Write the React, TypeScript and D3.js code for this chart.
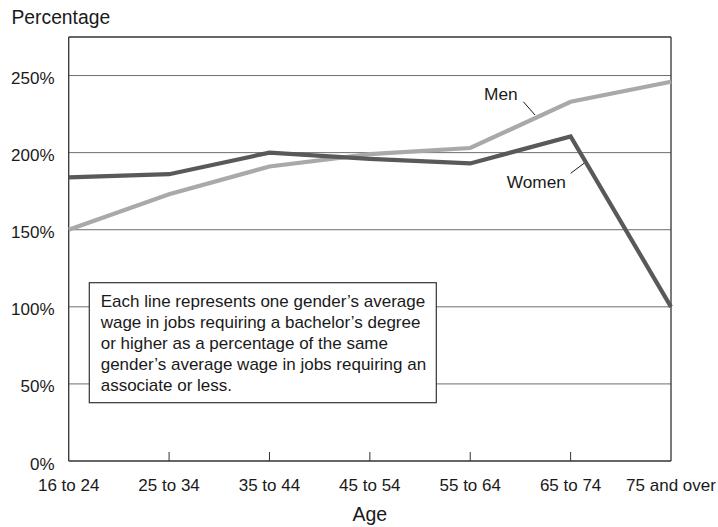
import React from "react";
import * as d3 from "d3";

const categories = ["16 to 24", "25 to 34", "35 to 44", "45 to 54", "55 to 64", "65 to 74", "75 and over"];
const menValues = [150, 173, 191, 199, 203, 233, 246];
const womenValues = [184, 186, 200, 196, 193, 210.5, 100];
const yTicks = [0, 50, 100, 150, 200, 250];
const noteLines = [
  "Each line represents one gender\u2019s average",
  "wage in jobs requiring a bachelor\u2019s degree",
  "or higher as a percentage of the same",
  "gender\u2019s average wage in jobs requiring an",
  "associate or less.",
];

const W = 718;
const H = 527;
const left = 68.7;
const right = 671;
const top = 37;
const bottom = 461;
const FONT = "Liberation Sans, Arial, Helvetica, sans-serif";

export default function App() {
  const x = d3.scalePoint<string>().domain(categories).range([left, right]);
  const y = d3.scaleLinear().domain([0, 275]).range([bottom, top]);
  const line = d3
    .line<number>()
    .x((_, i) => x(categories[i]) as number)
    .y((d) => y(d));

  return (
    <svg
      width={W}
      height={H}
      style={{ position: "absolute", left: 0, top: 0, background: "#fff" }}
      fontFamily={FONT}
    >
      {/* gridlines */}
      {yTicks.slice(1).map((t) => (
        <line key={t} x1={left} x2={right} y1={y(t)} y2={y(t)} stroke="#6e6e6e" strokeWidth={1} />
      ))}
      {/* frame */}
      <line x1={left} x2={right} y1={top} y2={top} stroke="#333" strokeWidth={1.3} />
      <line x1={right} x2={right} y1={top} y2={bottom} stroke="#333" strokeWidth={1.3} />
      <line x1={left} x2={left} y1={top} y2={bottom} stroke="#333" strokeWidth={1.3} />
      <line x1={left} x2={right} y1={bottom} y2={bottom} stroke="#333" strokeWidth={1.3} />
      {/* x ticks */}
      {categories.slice(1, -1).map((c) => (
        <line key={c} x1={x(c)} x2={x(c)} y1={bottom} y2={bottom - 9} stroke="#333" strokeWidth={1} />
      ))}
      {/* y labels */}
      {yTicks.map((t) => (
        <text key={t} x={54.5} y={y(t) + 8.5} textAnchor="end" fontSize={17} fill="#1a1a1a">
          {t}%
        </text>
      ))}
      {/* x labels */}
      {categories.map((c) => (
        <text key={c} x={x(c)} y={491} textAnchor="middle" fontSize={17} fill="#1a1a1a">
          {c}
        </text>
      ))}
      {/* axis titles */}
      <text x={11.5} y={23.5} fontSize={19.3} fill="#1a1a1a">Percentage</text>
      <text x={(left + right) / 2} y={521} textAnchor="middle" fontSize={19.5} fill="#1a1a1a">Age</text>

      {/* note box */}
      <rect x={89.3} y={282.7} width={347} height={120} fill="#fff" stroke="#333" strokeWidth={1.2} />
      {noteLines.map((l, i) => (
        <text key={i} x={100.7} y={306.5 + i * 21} fontSize={17} fill="#1a1a1a">
          {l}
        </text>
      ))}

      {/* series */}
      <path d={line(menValues) || ""} fill="none" stroke="#a9a9a9" strokeWidth={4.2} strokeLinejoin="miter" />
      <path d={line(womenValues) || ""} fill="none" stroke="#595959" strokeWidth={4.2} strokeLinejoin="miter" />

      {/* annotations */}
      <text x={484} y={99.5} fontSize={17.3} fill="#1a1a1a">Men</text>
      <line x1={523.3} y1={101.7} x2={535} y2={115} stroke="#1a1a1a" strokeWidth={1} />
      <text x={506.7} y={188.3} fontSize={17.3} fill="#1a1a1a">Women</text>
      <line x1={570.7} y1={173.3} x2={584} y2={163.3} stroke="#1a1a1a" strokeWidth={1} />
    </svg>
  );
}
